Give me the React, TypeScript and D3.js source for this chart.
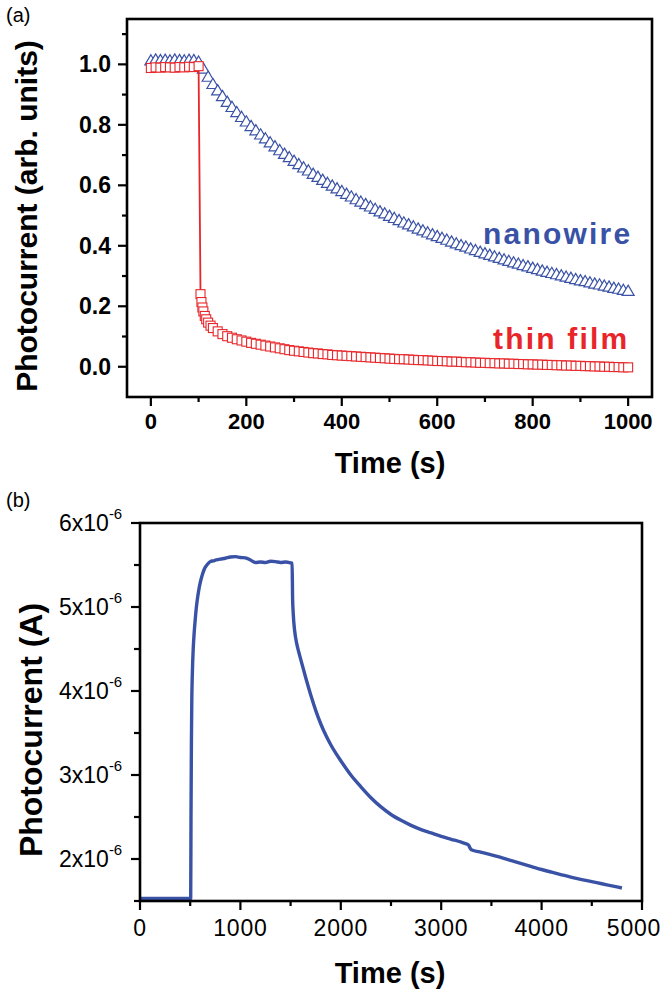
import React from "react";
import * as d3 from "d3";

// ---------- panel (a): normalized photocurrent decay ----------
const wireTime = [
  0, 10, 20, 30, 40, 50, 60, 70, 80, 90, 100, 110, 120, 130, 140, 150, 160, 170, 180, 190,
  200, 210, 220, 230, 240, 250, 260, 270, 280, 290, 300, 310, 320, 330, 340, 350, 360, 370, 380, 390,
  400, 410, 420, 430, 440, 450, 460, 470, 480, 490, 500, 510, 520, 530, 540, 550, 560, 570, 580, 590,
  600, 610, 620, 630, 640, 650, 660, 670, 680, 690, 700, 710, 720, 730, 740, 750, 760, 770, 780, 790,
  800, 810, 820, 830, 840, 850, 860, 870, 880, 890, 900, 910, 920, 930, 940, 950, 960, 970, 980, 990, 1000,
];
const wireSignal = [
  1.012, 1.015, 1.013, 1.014, 1.012, 1.015, 1.013, 1.012, 1.014, 1.013, 1.008, 0.985, 0.958, 0.934, 0.913, 0.894, 0.875, 0.858, 0.841, 0.825,
  0.81, 0.795, 0.781, 0.767, 0.754, 0.741, 0.728, 0.715, 0.703, 0.692, 0.68, 0.669, 0.658, 0.648, 0.637, 0.627, 0.617, 0.607, 0.598, 0.589,
  0.58, 0.571, 0.562, 0.553, 0.545, 0.537, 0.529, 0.521, 0.513, 0.506, 0.498, 0.491, 0.484, 0.476, 0.47, 0.463, 0.456, 0.45, 0.443, 0.437,
  0.431, 0.425, 0.419, 0.413, 0.407, 0.401, 0.396, 0.39, 0.385, 0.379, 0.374, 0.369, 0.364, 0.359, 0.354, 0.349, 0.344, 0.34, 0.335, 0.331,
  0.326, 0.322, 0.317, 0.313, 0.309, 0.305, 0.301, 0.297, 0.293, 0.289, 0.285, 0.282, 0.278, 0.274, 0.271, 0.267, 0.264, 0.26, 0.257, 0.253, 0.25,
];

const filmTime = [
  0, 10, 20, 30, 40, 50, 60, 70, 80, 90, 100, 104, 106, 108, 110, 113, 116, 120, 125, 130,
  140, 150, 160, 170, 180, 190, 200, 210, 220, 230, 240, 250, 260, 270, 280, 290, 300, 310, 320, 330,
  340, 350, 360, 370, 380, 390, 400, 410, 420, 430, 440, 450, 460, 470, 480, 490, 500, 510, 520, 530,
  540, 550, 560, 570, 580, 590, 600, 610, 620, 630, 640, 650, 660, 670, 680, 690, 700, 710, 720, 730,
  740, 750, 760, 770, 780, 790, 800, 810, 820, 830, 840, 850, 860, 870, 880, 890, 900, 910, 920, 930,
  940, 950, 960, 970, 980, 990, 1000,
];
const filmSignal = [
  0.988, 0.99, 0.989, 0.991, 0.99, 0.989, 0.991, 0.99, 0.992, 0.991, 0.994, 0.24, 0.214, 0.196, 0.183, 0.168, 0.157, 0.146, 0.136, 0.128,
  0.117, 0.108, 0.101, 0.096, 0.091, 0.087, 0.083, 0.079, 0.076, 0.073, 0.07, 0.067, 0.064, 0.061, 0.058, 0.055, 0.053, 0.051, 0.049, 0.047,
  0.045, 0.044, 0.042, 0.041, 0.039, 0.038, 0.037, 0.036, 0.035, 0.034, 0.033, 0.032, 0.031, 0.03, 0.029, 0.028, 0.027, 0.026, 0.025, 0.025,
  0.024, 0.023, 0.022, 0.022, 0.021, 0.02, 0.019, 0.019, 0.018, 0.017, 0.017, 0.016, 0.015, 0.015, 0.014, 0.013, 0.013, 0.012, 0.012, 0.011,
  0.011, 0.01, 0.01, 0.009, 0.009, 0.008, 0.008, 0.007, 0.007, 0.006, 0.006, 0.005, 0.005, 0.004, 0.004, 0.003, 0.003, 0.002, 0.002, 0.001,
  0.001, 0.0, 0.0, -0.001, -0.001, -0.002, -0.002,
];

const aXTicks = [0, 200, 400, 600, 800, 1000];
const aXMinor = [100, 300, 500, 700, 900];
const aYTicks = [0.0, 0.2, 0.4, 0.6, 0.8, 1.0];
const aYMinor = [0.1, 0.3, 0.5, 0.7, 0.9, 1.1];

// ---------- panel (b): photocurrent transient (units of 1e-6 A) ----------
const bTime = [
  0, 100, 200, 300, 400, 500, 505, 508, 512, 516, 520, 525, 530, 540, 550, 560, 570, 585, 600, 620,
  640, 660, 680, 700, 730, 760, 800, 850, 900, 950, 1000, 1050, 1100, 1150, 1200, 1250, 1300, 1350, 1400, 1450,
  1500, 1515, 1520, 1525, 1530, 1540, 1560, 1580, 1600, 1650, 1700, 1750, 1800, 1850, 1900, 1950, 2000, 2100, 2200, 2300,
  2400, 2500, 2600, 2700, 2800, 2900, 3000, 3100, 3200, 3250, 3270, 3290, 3300, 3400, 3500, 3600, 3700, 3800, 3900, 4000,
  4100, 4200, 4300, 4400, 4500, 4600, 4700, 4800,
];
const bCurrent = [
  1.53, 1.53, 1.53, 1.53, 1.53, 1.53, 1.53, 2.5, 3.4, 3.9, 4.15, 4.35, 4.5, 4.7, 4.85, 4.98, 5.08, 5.2, 5.29, 5.38,
  5.45, 5.49, 5.52, 5.54, 5.55, 5.56, 5.57, 5.58, 5.595, 5.6, 5.59, 5.585, 5.56, 5.53, 5.535, 5.53, 5.545, 5.54, 5.53, 5.535,
  5.525, 5.52, 5.1, 4.95, 4.85, 4.72, 4.57, 4.47, 4.38, 4.16, 3.955, 3.77, 3.61, 3.475, 3.36, 3.26, 3.17, 3.0, 2.86, 2.73,
  2.62, 2.53, 2.46, 2.4, 2.35, 2.31, 2.27, 2.235, 2.2, 2.18, 2.17, 2.125, 2.11, 2.08, 2.05, 2.015, 1.98, 1.945, 1.91, 1.875,
  1.843, 1.812, 1.782, 1.755, 1.73, 1.705, 1.68, 1.655,
];

const bXTicks = [0, 1000, 2000, 3000, 4000, 5000];
const bXMinor = [500, 1500, 2500, 3500, 4500];
const bYTicks = [2, 3, 4, 5, 6];
const bYMinor = [1.5, 2.5, 3.5, 4.5, 5.5];

const BLUE = "#3a52a6";
const RED = "#e8262a";
const FONT = "'Liberation Sans', Arial, Helvetica, sans-serif";

export default function App() {
  // panel (a) scales
  const ax = d3.scaleLinear().domain([-50, 1050]).range([127, 652]);
  const ay = d3.scaleLinear().domain([-0.1, 1.15]).range([397, 19]);
  // panel (b) scales
  const bx = d3.scaleLinear().domain([0, 5000]).range([140, 642]);
  const by = d3.scaleLinear().domain([1.5, 6]).range([901, 523]);

  const filmLine = d3
    .line<number>()
    .x((_, i) => ax(filmTime[i]))
    .y((d) => ay(d))(filmSignal) as string;

  const bLine = d3
    .line<number>()
    .x((_, i) => bx(bTime[i]))
    .y((d) => by(d))
    .curve(d3.curveMonotoneX)(bCurrent) as string;

  const tri = (cx: number, cy: number) =>
    `M${cx},${cy - 6}L${cx + 6},${cy + 4.2}L${cx - 6},${cy + 4.2}Z`;

  const axisW = 2.6;

  return (
    <svg
      width={660}
      height={994}
      style={{ position: "absolute", left: 0, top: 0, background: "#fff" }}
      fontFamily={FONT}
    >
      <rect x={0} y={0} width={660} height={994} fill="#fff" />

      {/* ===== panel (a) ===== */}
      <text x={6} y={22} fontSize={20}>(a)</text>

      {/* nanowire triangles */}
      <g fill="#fff" stroke={BLUE} strokeWidth={1.2}>
        {wireSignal.map((v, i) => (
          <path key={i} d={tri(ax(wireTime[i]), ay(v))} />
        ))}
      </g>

      {/* thin film line + squares */}
      <path d={filmLine} fill="none" stroke={RED} strokeWidth={1.8} />
      <g fill="#fff" stroke={RED} strokeWidth={1.1}>
        {filmSignal.map((v, i) => (
          <rect key={i} x={ax(filmTime[i]) - 4.5} y={ay(v) - 4.5} width={9} height={9} />
        ))}
      </g>

      {/* frame */}
      <rect x={127} y={19} width={652 - 127} height={397 - 19} fill="none" stroke="#000" strokeWidth={axisW} />

      {/* ticks */}
      <g stroke="#000" strokeWidth={2.2}>
        {aYTicks.map((t) => (
          <line key={t} x1={127} x2={118} y1={ay(t)} y2={ay(t)} />
        ))}
        {aYMinor.map((t) => (
          <line key={t} x1={127} x2={122} y1={ay(t)} y2={ay(t)} />
        ))}
        {aXTicks.map((t) => (
          <line key={t} x1={ax(t)} x2={ax(t)} y1={397} y2={406} />
        ))}
        {aXMinor.map((t) => (
          <line key={t} x1={ax(t)} x2={ax(t)} y1={397} y2={402} />
        ))}
      </g>
      <g fontSize={23} fontWeight="bold" textAnchor="end">
        {aYTicks.map((t) => (
          <text key={t} x={111} y={ay(t) + 8}>{d3.format(".1f")(t)}</text>
        ))}
      </g>
      <g fontSize={22} fontWeight="bold" textAnchor="middle">
        {aXTicks.map((t) => (
          <text key={t} x={ax(t)} y={429}>{t}</text>
        ))}
      </g>
      <text x={390} y={473} fontSize={29} fontWeight="bold" textAnchor="middle">Time (s)</text>
      <text
        transform={`translate(37,216) rotate(-90)`}
        fontSize={30}
        fontWeight="bold"
        textAnchor="middle"
      >
        Photocurrent (arb. units)
      </text>

      <text x={483} y={244} fontSize={30} fontWeight="bold" fill={BLUE} letterSpacing={2.2}>nanowire</text>
      <text x={493} y={349} fontSize={30} fontWeight="bold" fill={RED} letterSpacing={2.2}>thin film</text>

      {/* ===== panel (b) ===== */}
      <text x={6} y={507} fontSize={20}>(b)</text>

      <path d={bLine} fill="none" stroke={BLUE} strokeWidth={3.4} strokeLinejoin="round" />

      <rect x={140} y={523} width={642 - 140} height={901 - 523} fill="none" stroke="#000" strokeWidth={axisW} />

      <g stroke="#000" strokeWidth={2.2}>
        {bYTicks.map((t) => (
          <line key={t} x1={140} x2={131} y1={by(t)} y2={by(t)} />
        ))}
        {bYMinor.map((t) => (
          <line key={t} x1={140} x2={134} y1={by(t)} y2={by(t)} />
        ))}
        {bXTicks.map((t) => (
          <line key={t} x1={bx(t)} x2={bx(t)} y1={901} y2={910} />
        ))}
        {bXMinor.map((t) => (
          <line key={t} x1={bx(t)} x2={bx(t)} y1={901} y2={906} />
        ))}
      </g>
      <g fontSize={23}>
        {bYTicks.map((t) => (
          <text key={t} x={59} y={by(t) + 8}>
            {`${t}x10`}
            <tspan fontSize={15} dy={-12}>-6</tspan>
          </text>
        ))}
      </g>
      <g fontSize={23} textAnchor="middle" letterSpacing={0.8}>
        {bXTicks.map((t) => (
          <text key={t} x={Math.min(bx(t), 634)} y={936}>{t}</text>
        ))}
      </g>
      <text x={390} y={983} fontSize={29} fontWeight="bold" textAnchor="middle">Time (s)</text>
      <text
        transform={`translate(42,730) rotate(-90)`}
        fontSize={32}
        fontWeight="bold"
        textAnchor="middle"
      >
        Photocurrent (A)
      </text>
    </svg>
  );
}
